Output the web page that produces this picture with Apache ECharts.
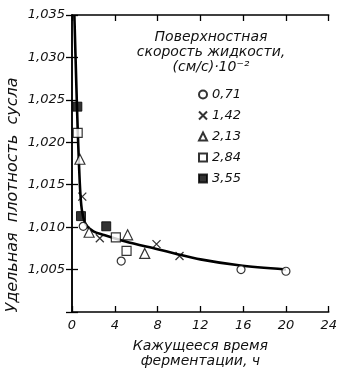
<!DOCTYPE html>
<html><head><meta charset="utf-8">
<script src="https://cdn.jsdelivr.net/npm/echarts@6/dist/echarts.min.js"></script>
<style>html,body{margin:0;padding:0;background:#fff}#c{width:340px;height:374px}</style>
</head><body><div id="c"></div>
<script>
// Series values [time h, specific gravity]
const s071 = [[1.05,1.0101],[4.6,1.0060],[15.8,1.0050],[20.0,1.0048]];
const s142 = [[0.96,1.0136],[2.6,1.0087],[7.9,1.0080],[10.05,1.0066]];
const s213 = [[0.74,1.0180],[1.6,1.0094],[5.2,1.0091],[6.8,1.0069]];
const s284 = [[0.53,1.0211],[4.1,1.0088],[5.1,1.0072]];
const s355 = [[0.50,1.0242],[0.84,1.0113],[3.2,1.0101]];
const fitCurve = [[0.22,1.035],[0.4,1.027],[0.52,1.022],[0.65,1.0175],[0.78,1.014],[0.95,1.0118],[1.3,1.0103],[2.0,1.0095],[2.9,1.0091],[5.0,1.0083],[8.0,1.0074],[9.6,1.0069],[12.0,1.0062],[15.6,1.0055],[20.0,1.0050]];
const seriesNames = ['0,71','1,42','2,13','2,84','3,55'];
const xTicks = [0,4,8,12,16,20,24];
const yTickLabels = {'1.005':'1,005','1.010':'1,010','1.015':'1,015','1.020':'1,020','1.025':'1,025','1.030':'1,030','1.035':'1,035'};
const legendTitle = 'Поверхностная\nскорость жидкости,\n(см/с)·10⁻²';
const yName = 'Удельная  плотность  сусла';
const xName = 'Кажущееся время\nферментации, ч';

const FONT = 'DejaVu Sans';
const txt = {fontFamily: FONT, fontStyle: 'italic', color: '#111', fontSize: 13};
const crossPath = 'path://M0,0L10,10M10,0L0,10';

const axisCommon = {
  axisLine: {show: true, lineStyle: {color: '#000', width: 1.5}},
  axisTick: {show: true, inside: true, length: 6, lineStyle: {color: '#000', width: 1.3}},
  splitLine: {show: false}
};

const chart = echarts.init(document.getElementById('c'), null, {renderer: 'canvas'});
const hollow = {color: '#fff', borderColor: '#000', borderWidth: 1.2};
chart.setOption({
  animation: false,
  backgroundColor: '#fff',
  grid: {left: 72, right: 7, top: 15, bottom: 59},
  title: {text: legendTitle, left: 206, top: 25, textAlign: 'center',
    textStyle: Object.assign({}, txt, {fontSize: 14, fontWeight: 'normal', lineHeight: 15})},
  legend: {
    orient: 'vertical', left: 193, top: 82, itemGap: 6, itemWidth: 8, itemHeight: 8,
    data: seriesNames, textStyle: Object.assign({}, txt, {fontSize: 13, lineHeight: 15})
  },
  graphic: [{
    type: 'text', x: 13, y: 195, rotation: Math.PI / 2,
    style: {text: yName, font: 'italic 16px "DejaVu Sans"', fill: '#111',
      textAlign: 'center', textVerticalAlign: 'middle'}
  }],
  xAxis: [
    Object.assign({type: 'value', min: 0, max: 24, interval: 4, position: 'bottom',
      axisLabel: Object.assign({}, txt, {margin: 7, formatter: v => xTicks.includes(v) ? String(v) : ''}),
      name: xName, nameLocation: 'middle', nameGap: 27,
      nameTextStyle: Object.assign({}, txt, {fontSize: 14, lineHeight: 15, padding: [0,0,0,0]})
    }, axisCommon),
    Object.assign({type: 'value', min: 0, max: 24, interval: 4, position: 'top', axisLabel: {show: false}}, axisCommon)
  ],
  yAxis: [
    Object.assign({type: 'value', min: 1.000, max: 1.035, interval: 0.005, position: 'left',
      axisLabel: Object.assign({}, txt, {margin: 7, formatter: v => yTickLabels[v.toFixed(3)] || ''})
    }, axisCommon),
    Object.assign({type: 'value', min: 1.000, max: 1.035, interval: 0.005, position: 'right', axisLabel: {show: false}}, axisCommon)
  ],
  series: [
    {type: 'line', data: fitCurve, smooth: 0.3, showSymbol: false, symbol: 'none',
      lineStyle: {color: '#000', width: 2.6}, z: 1, silent: true},
    {name: seriesNames[0], type: 'scatter', data: s071, symbol: 'circle', symbolSize: 8, itemStyle: hollow, z: 3},
    {name: seriesNames[1], type: 'scatter', data: s142, symbol: crossPath, symbolSize: 8,
      itemStyle: {color: 'rgba(0,0,0,0)', borderColor: '#000', borderWidth: 1.3}, z: 3},
    {name: seriesNames[2], type: 'scatter', data: s213, symbol: 'triangle', symbolSize: 10, itemStyle: hollow, z: 3},
    {name: seriesNames[3], type: 'scatter', data: s284, symbol: 'rect', symbolSize: 9, itemStyle: hollow, z: 3},
    {name: seriesNames[4], type: 'scatter', data: s355, symbol: 'rect', symbolSize: 9,
      itemStyle: {color: '#000', borderColor: '#000', borderWidth: 1}, z: 3}
  ]
});
</script></body></html>
